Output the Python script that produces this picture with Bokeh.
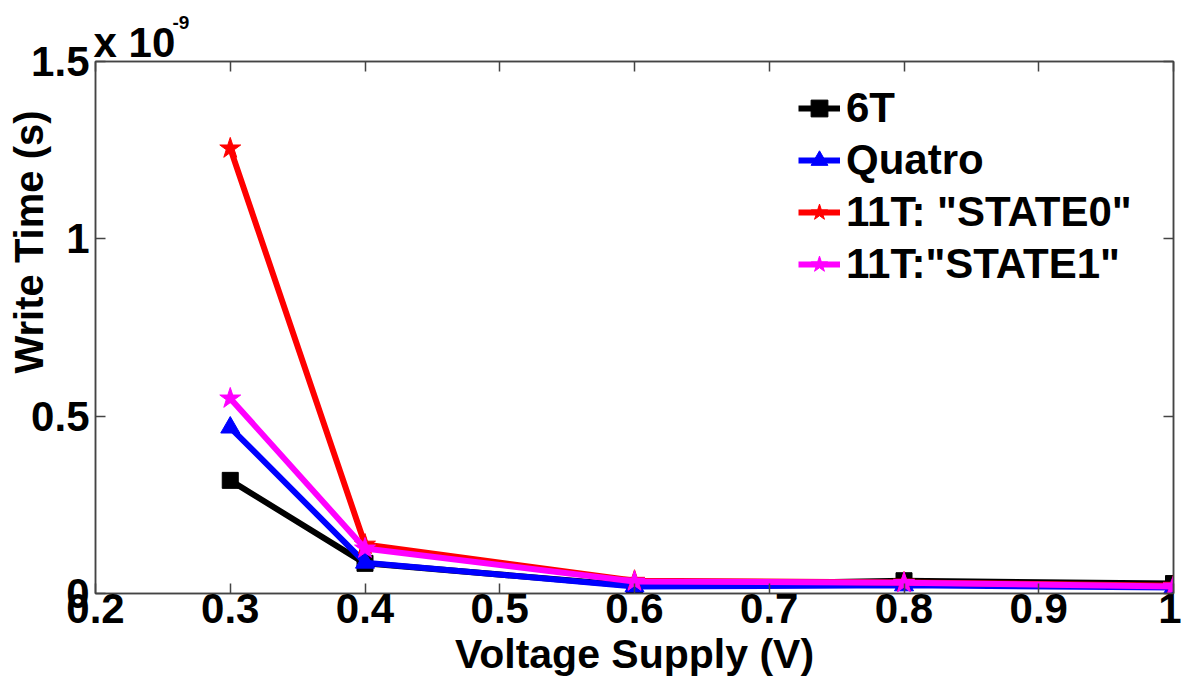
from bokeh.plotting import figure
from bokeh.models import LinearAxis, Title, Legend, LegendItem, FixedTicker, Range1d
from bokeh.embed import file_html
from bokeh.resources import INLINE

voltage = [0.3, 0.4, 0.6, 0.8, 1.0]
t_6t = [0.319, 0.085, 0.022, 0.036, 0.028]
t_quatro = [0.468, 0.087, 0.020, 0.023, 0.017]
t_state0 = [1.255, 0.138, 0.036, 0.031, 0.022]
t_state1 = [0.550, 0.127, 0.034, 0.030, 0.020]

x_ticks = [0.2, 0.3, 0.4, 0.5, 0.6, 0.7, 0.8, 0.9, 1.0]
x_labels = ["0.2", "0.3", "0.4", "0.5", "0.6", "0.7", "0.8", "0.9", "1"]
y_ticks = [0, 0.5, 1.0, 1.5]
y_labels = ["0", "0.5", "1", "1.5"]

FONT = "Liberation Sans"

p = figure(width=1181, height=681, output_backend="svg", toolbar_location=None,
           x_range=Range1d(0.2, 1.0), y_range=Range1d(0, 1.5),
           min_border_left=95, min_border_top=61, min_border_right=8, min_border_bottom=88)
p.grid.visible = False
p.outline_line_color = "#444444"
p.outline_line_width = 1.5

for ax, ticks, labels in [(p.xaxis[0], x_ticks, x_labels), (p.yaxis[0], y_ticks, y_labels)]:
    ax.ticker = FixedTicker(ticks=ticks)
    ax.major_label_overrides = {t: l for t, l in zip(ticks, labels)}
    ax.major_tick_in = 10
    ax.major_tick_out = 0
    ax.minor_tick_line_color = None
    ax.major_label_text_font = FONT
    ax.major_label_text_font_style = "bold"
    ax.major_label_text_font_size = "42px"
    ax.major_label_text_color = "black"
    ax.axis_line_color = "#444444"
    ax.axis_line_width = 1.5
    ax.major_tick_line_color = "#444444"
    ax.major_tick_line_width = 1.5

p.xaxis.major_label_standoff = 0
p.yaxis.major_label_standoff = 6
p.xaxis.axis_label = "Voltage Supply (V)"
p.xaxis.axis_label_standoff = 5
p.xaxis.axis_label_text_font = FONT
p.xaxis.axis_label_text_font_style = "bold"
p.xaxis.axis_label_text_font_size = "41px"
p.xaxis.axis_label_text_color = "black"

for loc, ticks in [("right", y_ticks), ("above", x_ticks)]:
    ax = LinearAxis(ticker=FixedTicker(ticks=ticks), major_tick_in=10, major_tick_out=0,
                    minor_tick_line_color=None, major_label_text_font_size="10px",
                    major_label_overrides={t: "" for t in ticks}, major_label_standoff=0,
                    axis_line_color="#444444", axis_line_width=1.5,
                    major_tick_line_color="#444444", major_tick_line_width=1.5)
    p.add_layout(ax, loc)

lw = 6
r1 = p.line(voltage, t_6t, line_color="black", line_width=lw)
m1 = p.scatter(voltage, t_6t, marker="square", size=16, color="black")
r2 = p.line(voltage, t_quatro, line_color="blue", line_width=lw)
m2 = p.scatter(voltage, t_quatro, marker="triangle", size=19, color="blue")
r3 = p.line(voltage, t_state0, line_color="red", line_width=lw)
m3 = p.scatter(voltage, t_state0, marker="star", size=22, color="red")
r4 = p.line(voltage, t_state1, line_color="magenta", line_width=lw)
m4 = p.scatter(voltage, t_state1, marker="star", size=22, color="magenta")

legend = Legend(items=[
    LegendItem(label="6T", renderers=[r1, m1]),
    LegendItem(label="Quatro", renderers=[r2, m2]),
    LegendItem(label='11T: "STATE0"', renderers=[r3, m3]),
    LegendItem(label='11T:"STATE1"', renderers=[r4, m4]),
], location=(703, 305), border_line_color=None, background_fill_alpha=0,
    label_text_font=FONT, label_text_font_style="bold", label_text_font_size="42px",
    label_text_color="black",
    glyph_width=42, glyph_height=48, spacing=4, label_standoff=6, padding=0, margin=0)
p.add_layout(legend)

tcommon = dict(text_font=FONT, text_font_style="bold", text_color="black",
               align="left", vertical_align="bottom")
# y-axis label as a side title
p.add_layout(Title(text="Write Time (s)", text_font_size="40px", offset=220, standoff=-44,
                   **tcommon), "left")
# exponent above the axes
p.add_layout(Title(text="x 10", text_font_size="42px", offset=-2, standoff=-8, **tcommon), "above")
p.add_layout(Title(text="-9", text_font_size="19px", offset=77, standoff=-16, **tcommon), "above")

open("out.html", "w").write(file_html(p, INLINE))
